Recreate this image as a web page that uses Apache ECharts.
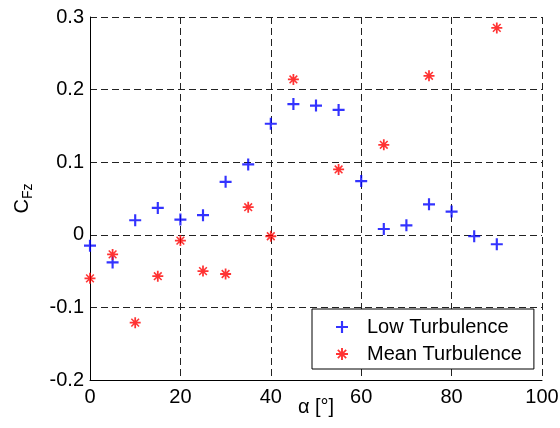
<!DOCTYPE html>
<html>
<head>
<meta charset="utf-8">
<script src="https://cdn.jsdelivr.net/npm/echarts@6/dist/echarts.min.js"></script>
<style>
  html, body { margin: 0; padding: 0; background: #fff; }
  #chart { width: 560px; height: 428px; }
</style>
</head>
<body>
<div id="chart"></div>
<script>
// angle of attack (deg)
var alphaLow = [0, 5, 10, 15, 20, 25, 30, 35, 40, 45, 50, 55, 60, 65, 70, 75, 80, 85, 90];
var cfzLow = [-0.015, -0.038, 0.020, 0.037, 0.021, 0.027, 0.073, 0.097, 0.153, 0.180, 0.178, 0.172, 0.074, 0.008, 0.013, 0.042, 0.032, -0.002, -0.013];

var alphaMean = [0, 5, 10, 15, 20, 25, 30, 35, 40, 45, 55, 65, 75, 90];
var cfzMean = [-0.060, -0.027, -0.121, -0.057, -0.008, -0.050, -0.054, 0.038, -0.002, 0.214, 0.090, 0.124, 0.219, 0.285];

var seriesNames = ['Low Turbulence', 'Mean Turbulence'];
var xTicks = [0, 20, 40, 60, 80, 100];
var yTicks = [-0.2, -0.1, 0, 0.1, 0.2, 0.3];

// marker shapes (filled outlines)
var plusPath = 'path://M4.1,0H5.9V4.1H10V5.9H5.9V10H4.1V5.9H0V4.1H4.1Z';
var starPath = 'path://M0,4.2H10V5.8H0Z M4.2,0H5.8V10H4.2Z M2,1L9,8L8,9L1,2Z M8,1L9,2L2,9L1,8Z';

function pairs(xs, ys) {
  return xs.map(function (x, i) { return [x, ys[i]]; });
}

var chart = echarts.init(document.getElementById('chart'));
var font = 'Liberation Sans, Arial, sans-serif';
var gridLine = { show: true, lineStyle: { color: '#222', type: [7, 4], width: 1 } };

chart.setOption({
  animation: false,
  textStyle: { fontFamily: font },
  grid: { left: 90, right: 18, top: 17, bottom: 48, outerBoundsMode: 'none', containLabel: false },
  legend: {
    data: [
      { name: seriesNames[0], icon: plusPath },
      { name: seriesNames[1], icon: starPath }
    ],
    orient: 'vertical',
    left: 312,
    top: 309,
    backgroundColor: '#fff',
    borderColor: '#000',
    borderWidth: 1,
    borderRadius: 0,
    padding: [8, 12, 5, 24],
    itemWidth: 12,
    itemHeight: 12,
    itemGap: 7,
    textStyle: { fontSize: 20, color: '#000', fontFamily: font, padding: [0, 0, 0, 14] }
  },
  xAxis: {
    type: 'value',
    min: xTicks[0],
    max: xTicks[xTicks.length - 1],
    interval: 20,
    name: 'α [°]',
    nameLocation: 'middle',
    nameGap: 17,
    nameMoveOverlap: false,
    nameTextStyle: { fontSize: 20, color: '#000', verticalAlign: 'top' },
    axisLine: { show: true, onZero: false, lineStyle: { color: '#000', width: 1 } },
    axisTick: { show: false },
    axisLabel: { fontSize: 20, color: '#000', margin: 7 },
    splitLine: gridLine
  },
  yAxis: {
    type: 'value',
    min: yTicks[0],
    max: yTicks[yTicks.length - 1],
    interval: 0.1,
    name: '{c|C}{s|Fz}',
    nameLocation: 'middle',
    nameGap: 55,
    nameMoveOverlap: false,
    nameRotate: 90,
    nameTextStyle: {
      color: '#000',
      rich: {
        c: { fontSize: 20, color: '#000', fontFamily: font },
        s: { fontSize: 14, color: '#000', fontFamily: font, verticalAlign: 'bottom', padding: [12, 0, 0, 0] }
      }
    },
    axisLine: { show: true, onZero: false, lineStyle: { color: '#000', width: 1 } },
    axisTick: { show: false },
    axisLabel: {
      fontSize: 20, color: '#000', margin: 6,
      formatter: function (v) { return v === 0 ? '0' : v.toFixed(1); }
    },
    splitLine: gridLine
  },
  series: [
    {
      name: seriesNames[0],
      type: 'scatter',
      symbol: plusPath,
      symbolSize: 12,
      itemStyle: { color: '#0000ff' },
      data: pairs(alphaLow, cfzLow)
    },
    {
      name: seriesNames[1],
      type: 'scatter',
      symbol: starPath,
      symbolSize: 11,
      itemStyle: { color: '#ff0000' },
      data: pairs(alphaMean, cfzMean)
    }
  ]
});
</script>
</body>
</html>
